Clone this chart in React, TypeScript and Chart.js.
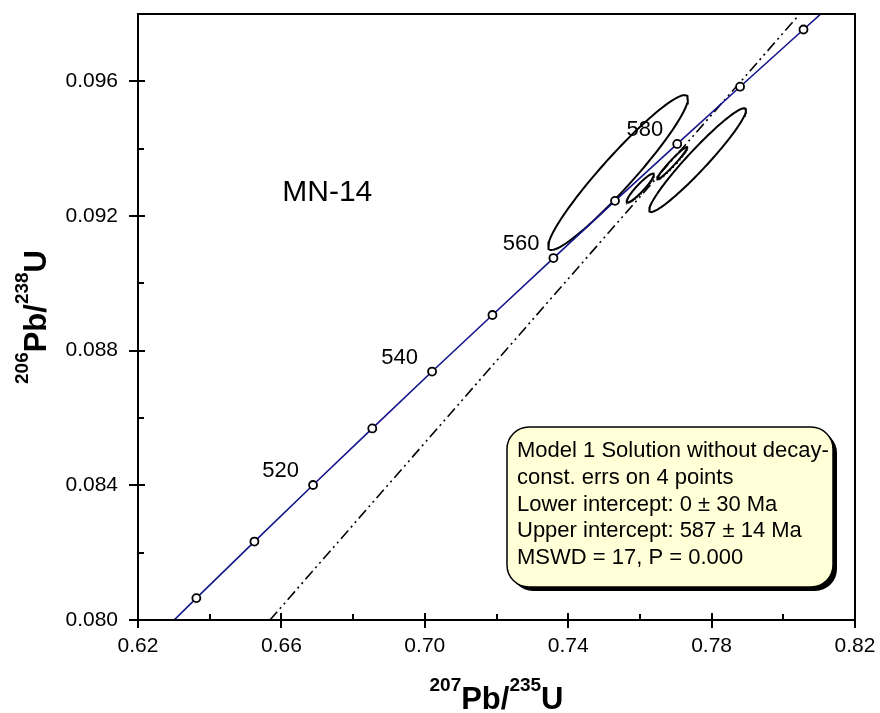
import { useEffect, useRef } from "react";
import { Chart, registerables } from "chart.js";

Chart.register(...registerables);

const FONT = "'Liberation Sans', Arial, Helvetica, sans-serif";

// Axis ticks
const X_TICKS = [0.62, 0.66, 0.7, 0.74, 0.78, 0.82];
const X_TICK_LABELS = ["0.62", "0.66", "0.70", "0.74", "0.78", "0.82"];
const X_MINOR_TICKS = [0.64, 0.68, 0.72, 0.76, 0.8];
const Y_TICKS = [0.08, 0.084, 0.088, 0.092, 0.096];
const Y_TICK_LABELS = ["0.080", "0.084", "0.088", "0.092", "0.096"];
const Y_MINOR_TICKS = [0.082, 0.086, 0.09, 0.094];

// Concordia curve, 10 Ma steps (ages in Ma)
const CONCORDIA_AGE = [490, 500, 510, 520, 530, 540, 550, 560, 570, 580, 590, 600, 610];
const CONCORDIA_207_235 = [
  0.62024, 0.63628, 0.65247, 0.66883, 0.68535, 0.70203, 0.71887, 0.73588, 0.75306, 0.77041, 0.78794,
  0.80563, 0.82353,
];
const CONCORDIA_206_238 = [
  0.07897, 0.08065, 0.08233, 0.08401, 0.08569, 0.08738, 0.08906, 0.09075, 0.09245, 0.09414, 0.09584,
  0.09754, 0.09925,
];
const LABELLED_AGES = [520, 540, 560, 580];

// Discordia chord (lower intercept at the origin) between the plot edges
const DISCORDIA_207_235 = [0.6568, 0.8046];
const DISCORDIA_206_238 = [0.08, 0.098];

// Analyses: centre, ellipse half-extents and error correlation
const SPOT_207_235 = [0.7539, 0.7761, 0.7601, 0.769];
const SPOT_206_238 = [0.09329, 0.09366, 0.09283, 0.09357];
const SPOT_ERR_207_235 = [0.0195, 0.0135, 0.0038, 0.0042];
const SPOT_ERR_206_238 = [0.0023, 0.00154, 0.00043, 0.00048];
const SPOT_RHO = [0.952, 0.96, 0.93, 0.97];

const SAMPLE_NAME = "MN-14";
const RESULT_LINES = [
  "Model 1 Solution without decay-",
  "const. errs on 4 points",
  "Lower intercept: 0 \u00b1 30 Ma",
  "Upper intercept: 587 \u00b1 14 Ma",
  "MSWD = 17, P = 0.000",
];

type Part = { t: string; sup?: boolean };
const X_TITLE: Part[] = [{ t: "207", sup: true }, { t: "Pb/" }, { t: "235", sup: true }, { t: "U" }];
const Y_TITLE: Part[] = [{ t: "206", sup: true }, { t: "Pb/" }, { t: "238", sup: true }, { t: "U" }];

function ellipse(i: number) {
  const cx = SPOT_207_235[i];
  const cy = SPOT_206_238[i];
  const ex = SPOT_ERR_207_235[i];
  const ey = SPOT_ERR_206_238[i];
  const r = SPOT_RHO[i];
  const s = Math.sqrt(1 - r * r);
  const pts: { x: number; y: number }[] = [];
  const n = 120;
  for (let k = 0; k <= n; k++) {
    const t = (k / n) * Math.PI * 2;
    pts.push({ x: cx + ex * Math.cos(t), y: cy + ey * (r * Math.cos(t) + s * Math.sin(t)) });
  }
  return pts;
}

function drawParts(ctx: CanvasRenderingContext2D, parts: Part[], cx: number, baseline: number) {
  const big = `bold 31px ${FONT}`;
  const small = `bold 19px ${FONT}`;
  let w = 0;
  for (const p of parts) {
    ctx.font = p.sup ? small : big;
    w += ctx.measureText(p.t).width;
  }
  let x = cx - w / 2;
  ctx.textAlign = "left";
  ctx.textBaseline = "alphabetic";
  for (const p of parts) {
    ctx.font = p.sup ? small : big;
    ctx.fillText(p.t, x, p.sup ? baseline - 18 : baseline);
    x += ctx.measureText(p.t).width;
  }
}

function roundRect(ctx: CanvasRenderingContext2D, x: number, y: number, w: number, h: number, r: number) {
  ctx.beginPath();
  ctx.moveTo(x + r, y);
  ctx.lineTo(x + w - r, y);
  ctx.arcTo(x + w, y, x + w, y + r, r);
  ctx.lineTo(x + w, y + h - r);
  ctx.arcTo(x + w, y + h, x + w - r, y + h, r);
  ctx.lineTo(x + r, y + h);
  ctx.arcTo(x, y + h, x, y + h - r, r);
  ctx.lineTo(x, y + r);
  ctx.arcTo(x, y, x + r, y, r);
  ctx.closePath();
}

const overlay = {
  id: "concordiaOverlay",
  afterDraw(chart: any) {
    const { ctx, chartArea: a, scales } = chart;
    const xs = scales.x;
    const ys = scales.y;
    ctx.save();

    // Frame
    ctx.strokeStyle = "#000";
    ctx.lineWidth = 2;
    ctx.strokeRect(a.left, a.top, a.right - a.left, a.bottom - a.top);

    // Tick marks: majors cross the axis, minors sit inside
    ctx.beginPath();
    for (const v of X_TICKS) {
      const px = Math.round(xs.getPixelForValue(v));
      ctx.moveTo(px, a.bottom - 7);
      ctx.lineTo(px, a.bottom + 8);
    }
    for (const v of X_MINOR_TICKS) {
      const px = Math.round(xs.getPixelForValue(v));
      ctx.moveTo(px, a.bottom - 6);
      ctx.lineTo(px, a.bottom);
    }
    for (const v of Y_TICKS) {
      const py = Math.round(ys.getPixelForValue(v));
      ctx.moveTo(a.left - 9, py);
      ctx.lineTo(a.left + 7, py);
    }
    for (const v of Y_MINOR_TICKS) {
      const py = Math.round(ys.getPixelForValue(v));
      ctx.moveTo(a.left, py);
      ctx.lineTo(a.left + 6, py);
    }
    ctx.stroke();

    ctx.fillStyle = "#000";

    // Concordia age labels
    ctx.font = `22px ${FONT}`;
    ctx.textAlign = "right";
    ctx.textBaseline = "middle";
    for (const age of LABELLED_AGES) {
      const i = CONCORDIA_AGE.indexOf(age);
      const px = xs.getPixelForValue(CONCORDIA_207_235[i]);
      const py = ys.getPixelForValue(CONCORDIA_206_238[i]);
      ctx.fillText(String(age), px - 14, py - 14);
    }

    // Sample name
    ctx.font = `30px ${FONT}`;
    ctx.textAlign = "center";
    ctx.fillText(SAMPLE_NAME, xs.getPixelForValue(0.6728), ys.getPixelForValue(0.09268));

    // Result box with drop shadow
    const bx = 507;
    const by = 427;
    const bw = 326;
    const bh = 160;
    ctx.fillStyle = "#000";
    roundRect(ctx, bx + 4, by + 4, bw, bh, 22);
    ctx.fill();
    ctx.fillStyle = "#ffffd8";
    roundRect(ctx, bx, by, bw, bh, 22);
    ctx.fill();
    ctx.lineWidth = 1.5;
    ctx.stroke();
    ctx.fillStyle = "#000";
    ctx.font = `22px ${FONT}`;
    ctx.textAlign = "left";
    ctx.textBaseline = "middle";
    RESULT_LINES.forEach((line, k) => ctx.fillText(line, bx + 10, by + 24 + k * 26.8));

    // Axis titles
    drawParts(ctx, X_TITLE, (a.left + a.right) / 2, 709);
    ctx.save();
    ctx.translate(46, (a.top + a.bottom) / 2);
    ctx.rotate(-Math.PI / 2);
    drawParts(ctx, Y_TITLE, 0, 0);
    ctx.restore();

    ctx.restore();
  },
};

export default function App() {
  const ref = useRef<HTMLCanvasElement | null>(null);

  useEffect(() => {
    document.body.style.margin = "0";
    const canvas = ref.current;
    if (!canvas) return;

    const concordia = CONCORDIA_AGE.map((_, i) => ({ x: CONCORDIA_207_235[i], y: CONCORDIA_206_238[i] }));
    const discordia = DISCORDIA_207_235.map((x, i) => ({ x, y: DISCORDIA_206_238[i] }));

    const datasets: any[] = [
      {
        label: "Concordia",
        data: concordia,
        showLine: true,
        borderColor: "#14148c",
        borderWidth: 1.6,
        tension: 0,
        pointRadius: (c: any) => {
          const age = CONCORDIA_AGE[c.dataIndex];
          return age >= 500 && age <= 600 ? 4 : 0;
        },
        pointBackgroundColor: "#ffffff",
        pointBorderColor: "#000000",
        pointBorderWidth: 1.8,
      },
      {
        label: "Discordia",
        data: discordia,
        showLine: true,
        borderColor: "#000",
        borderWidth: 1.6,
        borderDash: [11, 4, 2, 4, 2, 4],
        pointRadius: 0,
      },
      ...SPOT_207_235.map((_, i) => ({
        label: `Spot ${i + 1}`,
        data: ellipse(i),
        showLine: true,
        borderColor: "#000",
        borderWidth: 2,
        pointRadius: 0,
        tension: 0,
      })),
    ];

    const chart = new Chart(canvas, {
      type: "scatter",
      data: { datasets },
      options: {
        animation: false,
        responsive: false,
        maintainAspectRatio: false,
        layout: { padding: { left: 0, right: 25, top: 14, bottom: 0 } },
        plugins: { legend: { display: false }, tooltip: { enabled: false } },
        scales: {
          x: {
            type: "linear",
            min: 0.62,
            max: 0.82,
            grid: { display: false, drawTicks: false },
            border: { display: false },
            afterBuildTicks: (s: any) => {
              s.ticks = X_TICKS.map((v) => ({ value: v }));
            },
            afterFit: (s: any) => {
              s.height = 93;
              s.paddingLeft = 0;
              s.paddingRight = 0;
            },
            ticks: {
              color: "#000",
              font: { family: FONT, size: 21 },
              padding: 14,
              maxRotation: 0,
              autoSkip: false,
              callback: (_v: any, i: number) => X_TICK_LABELS[i],
            },
          },
          y: {
            type: "linear",
            min: 0.08,
            max: 0.098,
            grid: { display: false, drawTicks: false },
            border: { display: false },
            afterBuildTicks: (s: any) => {
              s.ticks = Y_TICKS.map((v) => ({ value: v }));
            },
            afterFit: (s: any) => {
              s.width = 138;
              s.paddingTop = 0;
              s.paddingBottom = 0;
            },
            ticks: {
              color: "#000",
              font: { family: FONT, size: 21 },
              padding: 20,
              autoSkip: false,
              callback: (_v: any, i: number) => Y_TICK_LABELS[i],
            },
          },
        },
      },
      plugins: [overlay],
    });

    return () => chart.destroy();
  }, []);

  return (
    <div style={{ position: "absolute", left: 0, top: 0, width: 880, height: 713, background: "#fff" }}>
      <canvas ref={ref} width={880} height={713} style={{ display: "block" }} />
    </div>
  );
}
